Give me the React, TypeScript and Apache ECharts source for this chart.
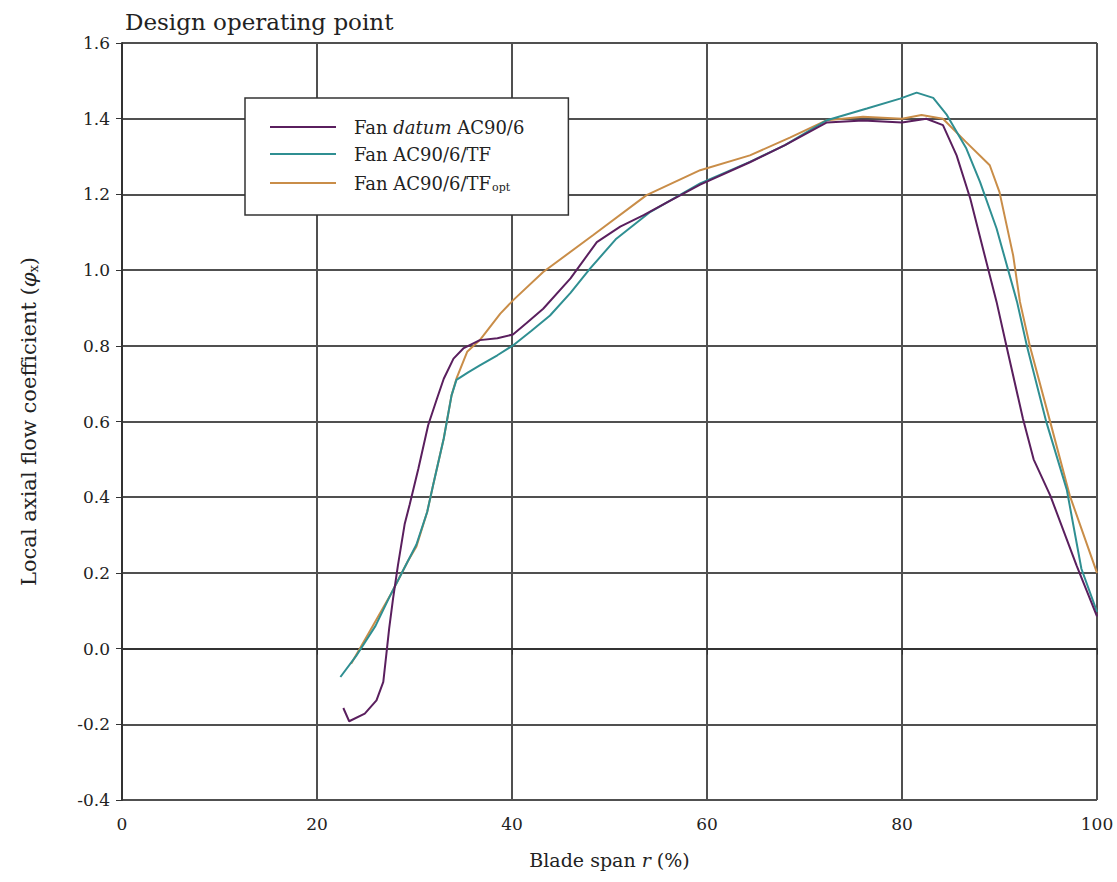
import React, { useEffect, useRef } from "react";
import * as echarts from "echarts";

const xTicks = [0, 20, 40, 60, 80, 100];
const seriesNames = ["Fan datum AC90/6", "Fan AC90/6/TF", "Fan AC90/6/TFopt"];

const datum: number[][] = [
  [22.7, -0.157], [23.3, -0.192], [24.9, -0.172], [26.1, -0.137], [26.8, -0.088],
  [27.1, -0.018], [27.4, 0.053], [27.8, 0.132], [28.3, 0.22], [29.0, 0.33],
  [29.5, 0.38], [30.4, 0.476], [31.4, 0.59], [32.3, 0.66], [33.0, 0.713],
  [34.0, 0.766], [35.0, 0.793], [36.7, 0.815], [38.5, 0.82], [40.1, 0.83],
  [41.5, 0.86], [43.2, 0.898], [46.0, 0.978], [48.7, 1.074], [51.1, 1.115],
  [53.5, 1.145], [56.0, 1.18], [59.3, 1.226], [64.4, 1.285], [68.0, 1.33],
  [72.3, 1.39], [76.0, 1.395], [80.0, 1.39], [82.5, 1.4], [84.2, 1.383],
  [85.6, 1.303], [87.0, 1.189], [88.3, 1.057], [89.7, 0.916], [90.7, 0.801],
  [92.4, 0.608], [93.5, 0.5], [95.2, 0.405], [97.9, 0.22], [100, 0.085],
];

const tf: number[][] = [
  [22.4, -0.075], [24.0, -0.02], [26.0, 0.06], [27.5, 0.14], [28.5, 0.19],
  [29.3, 0.23], [30.2, 0.275], [31.3, 0.361], [31.9, 0.431], [33.0, 0.555],
  [33.8, 0.669], [34.3, 0.71], [35.5, 0.73], [36.7, 0.748], [38.5, 0.775],
  [40.1, 0.801], [42.0, 0.84], [43.9, 0.88], [46.0, 0.94], [48.0, 1.004],
  [50.7, 1.083], [54.2, 1.154], [59.3, 1.229], [64.4, 1.286], [68.0, 1.33],
  [72.3, 1.396], [76.4, 1.427], [79.8, 1.453], [81.5, 1.469], [83.2, 1.455],
  [84.6, 1.41], [86.6, 1.321], [88.0, 1.233], [89.7, 1.11], [91.8, 0.916],
  [92.8, 0.801], [94.8, 0.599], [96.9, 0.42], [98.4, 0.211], [100, 0.097],
];

const tfOpt: number[][] = [
  [23.5, -0.04], [25.5, 0.05], [27.5, 0.14], [28.5, 0.19], [29.3, 0.23],
  [30.2, 0.27], [31.3, 0.361], [31.9, 0.431], [33.0, 0.555], [33.8, 0.669],
  [34.3, 0.713], [35.4, 0.784], [36.7, 0.815], [38.8, 0.885], [40.1, 0.92],
  [43.2, 0.995], [48.3, 1.092], [53.8, 1.198], [59.3, 1.264], [64.4, 1.303],
  [68.5, 1.35], [72.3, 1.396], [76.0, 1.405], [80.0, 1.4], [82.0, 1.41],
  [84.2, 1.4], [86.5, 1.34], [89.0, 1.277], [90.0, 1.206], [91.4, 1.039],
  [92.1, 0.916], [93.1, 0.801], [95.2, 0.599], [97.2, 0.405], [100, 0.2],
];

const colors = ["#5a1f5e", "#2f8f92", "#c98d48"];
const FONT = "DejaVu Serif";

export default function App() {
  const ref = useRef<HTMLDivElement>(null);
  useEffect(() => {
    document.body.style.margin = "0";
    const chart = echarts.init(ref.current!, null, { renderer: "svg" });
    const baseText = { fontFamily: FONT, color: "#222" };
    const n = { fontFamily: FONT, fontSize: 18, color: "#222", lineHeight: 20 };
    chart.setOption({
      animation: false,
      backgroundColor: "#fff",
      title: {
        text: "Design operating point",
        left: 120,
        top: 5,
        textStyle: { ...baseText, fontSize: 23, fontWeight: "normal" },
      },
      grid: { left: 122, right: 20, top: 43, bottom: 82 },
      legend: {
        orient: "vertical",
        left: 245,
        top: 98,
        padding: [20, 44, 22, 25],
        itemGap: 9,
        itemWidth: 66,
        itemHeight: 12,
        backgroundColor: "#fff",
        borderColor: "#333",
        borderWidth: 1.5,
        data: seriesNames.map((nm) => ({ name: nm, icon: "path://M0,5 L66,5 L66,7 L0,7 Z" })),
        formatter: (name: string) => {
          if (name === seriesNames[0]) return "{n|Fan }{i|datum}{n| AC90/6}";
          if (name === seriesNames[2]) return "{n|Fan AC90/6/TF}{s|opt}";
          return "{n|" + name + "}";
        },
        textStyle: {
          ...baseText,
          fontSize: 18,
          padding: [0, 0, 0, 13],
          rich: {
            n,
            i: { ...n, fontStyle: "italic" },
            s: { fontFamily: FONT, fontSize: 11, color: "#222", lineHeight: 20, verticalAlign: "bottom", padding: [10, 0, 0, 1] },
          },
        },
      },
      xAxis: {
        type: "value",
        min: 0,
        max: 100,
        interval: 20,
        name: "{n|Blade span }{i|r}{n| (%)}",
        nameLocation: "middle",
        nameGap: 50,
        nameTextStyle: {
          rich: {
            n: { fontFamily: FONT, fontSize: 19, color: "#222" },
            i: { fontFamily: FONT, fontSize: 19, color: "#222", fontStyle: "italic" },
          },
        },
        axisLine: { show: true, lineStyle: { color: "#333", width: 2 } },
        axisTick: { show: true, inside: false, length: 6, lineStyle: { color: "#333" } },
        axisLabel: { ...baseText, fontSize: 17, margin: 15, formatter: (v: number) => (xTicks.includes(v) ? String(v) : "") },
        splitLine: { show: true, lineStyle: { color: "#505050", width: 2 } },
      },
      yAxis: {
        type: "value",
        min: -0.4,
        max: 1.6,
        interval: 0.2,
        name: "{n|Local axial flow coefficient (}{i|φ}{s|x}{n|)}",
        nameLocation: "middle",
        nameGap: 82,
        nameTextStyle: {
          rich: {
            n: { fontFamily: FONT, fontSize: 21, color: "#222" },
            i: { fontFamily: FONT, fontSize: 21, color: "#222", fontStyle: "italic" },
            s: { fontFamily: FONT, fontSize: 13, color: "#222", verticalAlign: "bottom", padding: [9, 0, 0, 0] },
          },
        },
        axisLine: { show: true, lineStyle: { color: "#333", width: 2 } },
        axisTick: { show: true, inside: false, length: 6, lineStyle: { color: "#333" } },
        axisLabel: { ...baseText, fontSize: 17, margin: 12, formatter: (v: number) => v.toFixed(1) },
        splitLine: { show: true, lineStyle: { color: "#505050", width: 2 } },
      },
      series: [
        { name: seriesNames[0], type: "line", data: datum, symbol: "none", lineStyle: { width: 2, color: colors[0] }, itemStyle: { color: colors[0] }, z: 4 },
        { name: seriesNames[1], type: "line", data: tf, symbol: "none", lineStyle: { width: 2, color: colors[1] }, itemStyle: { color: colors[1] }, z: 3 },
        { name: seriesNames[2], type: "line", data: tfOpt, symbol: "none", lineStyle: { width: 2, color: colors[2] }, itemStyle: { color: colors[2] }, z: 2 },
      ],
    });
    return () => chart.dispose();
  }, []);
  return <div ref={ref} style={{ width: 1117, height: 882 }} />;
}
